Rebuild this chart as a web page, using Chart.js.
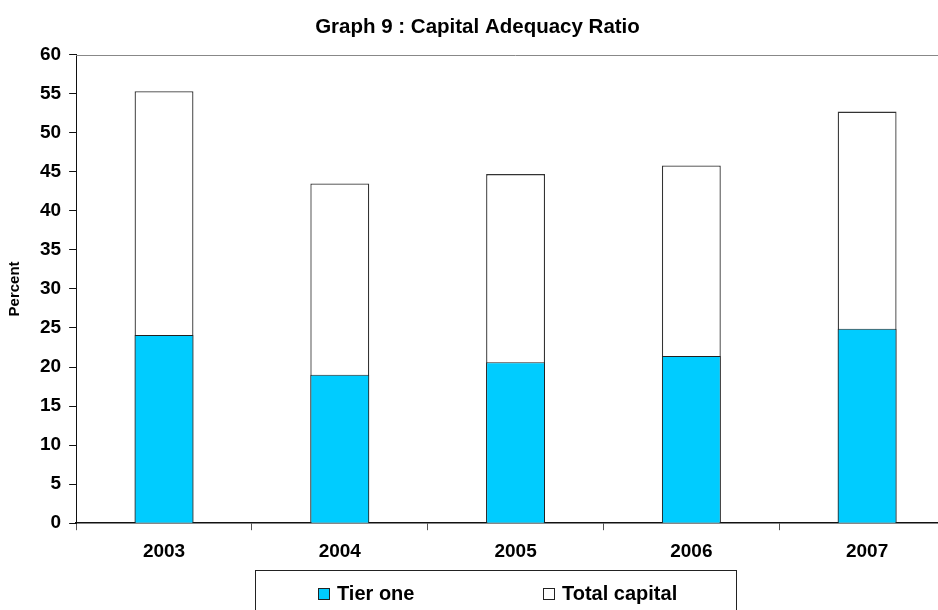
<!DOCTYPE html>
<html>
<head>
<meta charset="utf-8">
<title>Capital Adequacy Ratio</title>
<script src="https://cdn.jsdelivr.net/npm/chart.js@4"></script>
<style>
    html, body { margin: 0; padding: 0; background: #fff; overflow: hidden; }
    #wrap { position: relative; width: 1002px; height: 610px; }
    #legend {
        position: absolute; left: 255px; top: 570px; width: 482px; height: 60px;
        border: 1px solid #222; box-sizing: border-box;
        font: bold 20px "Liberation Sans", Arial, sans-serif; color: #000;
    }
    #legend .item { position: absolute; top: 11px; display: flex; align-items: center; white-space: nowrap; }
    #legend .swatch { width: 10px; height: 10px; border: 1px solid #222; margin-right: 7px; }
</style>
</head>
<body>
<div id="wrap">
    <canvas id="carChart"></canvas>
    <div id="legend"></div>
</div>
<script>
const years = ['2003', '2004', '2005', '2006', '2007'];
const tierOne = [24.1, 19.0, 20.6, 21.4, 24.9];
const totalCapital = [55.3, 43.5, 44.7, 45.8, 52.7];
const seriesNames = ['Tier one', 'Total capital'];
const seriesColors = ['#00CCFF', '#FFFFFF'];

const FONT = '"Liberation Sans", Arial, sans-serif';

// gray frame line along the top of the plot area
const plotFrame = {
    id: 'plotFrame',
    beforeDatasetsDraw(chart) {
        const { ctx, chartArea } = chart;
        ctx.save();
        ctx.strokeStyle = '#888';
        ctx.lineWidth = 1;
        ctx.beginPath();
        ctx.moveTo(chartArea.left, Math.round(chartArea.top) + 0.5);
        ctx.lineTo(chartArea.right, Math.round(chartArea.top) + 0.5);
        ctx.stroke();
        ctx.restore();
    }
};

const chart = new Chart(document.getElementById('carChart'), {
    type: 'bar',
    data: {
        labels: years,
        datasets: [
            {
                label: seriesNames[0],
                data: tierOne,
                backgroundColor: seriesColors[0],
                borderColor: '#222',
                borderWidth: 1
            },
            {
                label: seriesNames[1],
                data: totalCapital,
                backgroundColor: seriesColors[1],
                borderColor: '#333',
                borderWidth: 1.3
            }
        ]
    },
    options: {
        responsive: true,
        maintainAspectRatio: false,
        animation: false,
        datasets: {
            bar: { grouped: false, barPercentage: 1, categoryPercentage: 0.335 }
        },
        layout: { padding: { left: 0, right: 47, top: 0, bottom: 37 } },
        plugins: {
            legend: { display: false },
            tooltip: { enabled: false },
            title: {
                display: true,
                text: 'Graph 9 : Capital Adequacy Ratio',
                color: '#000',
                font: { family: FONT, size: 20.5, weight: 'bold' },
                padding: { top: 15, bottom: 15 }
            }
        },
        scales: {
            x: {
                offset: true,
                grid: { display: true, drawOnChartArea: false, drawTicks: true, tickLength: 7, color: '#555', offset: true },
                border: { color: '#111', width: 1.5 },
                ticks: { color: '#000', font: { family: FONT, size: 19, weight: 'bold' }, padding: 10 }
            },
            y: {
                min: 0,
                max: 60,
                grid: { drawOnChartArea: false, drawTicks: true, tickLength: 7, color: '#111' },
                border: { color: '#111', width: 1 },
                ticks: { stepSize: 5, color: '#000', font: { family: FONT, size: 19, weight: 'bold' }, padding: 8 },
                title: {
                    display: true,
                    text: 'Percent',
                    color: '#000',
                    font: { family: FONT, size: 15, weight: 'bold' },
                    padding: { top: 6, bottom: 8 }
                }
            }
        }
    },
    plugins: [plotFrame]
});

// boxed legend under the axis, built from the datasets
const legendEl = document.getElementById('legend');
const itemLeft = [62, 287];
chart.data.datasets.forEach((ds, i) => {
    const item = document.createElement('div');
    item.className = 'item';
    item.style.left = itemLeft[i] + 'px';
    item.innerHTML = `<span class="swatch" style="background:${ds.backgroundColor}"></span><span>${ds.label}</span>`;
    legendEl.appendChild(item);
});
</script>
</body>
</html>
